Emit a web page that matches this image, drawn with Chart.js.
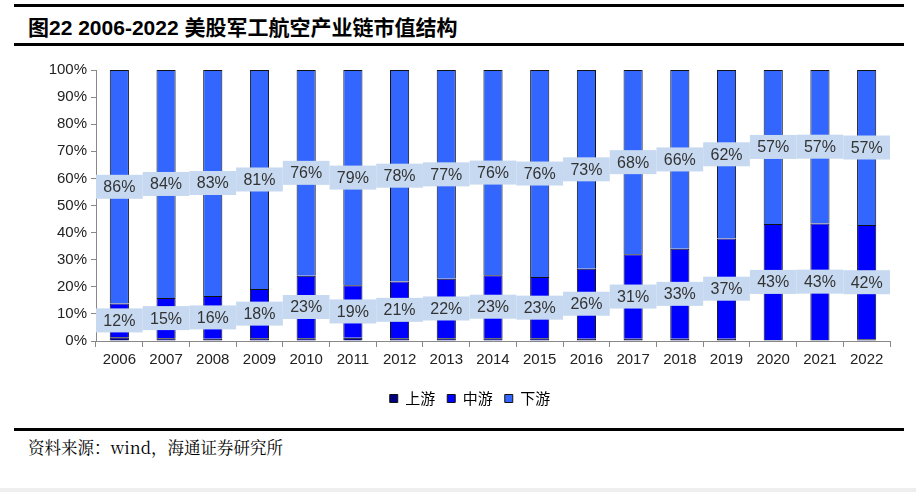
<!DOCTYPE html>
<html>
<head>
<meta charset="utf-8">
<script src="https://cdn.jsdelivr.net/npm/chart.js@4"></script>
<style>
  body { margin: 0; width: 916px; height: 492px; background: #fff; position: relative; overflow: hidden; font-family: Arial, "Liberation Sans", sans-serif; }
  .rule { position: absolute; left: 14px; width: 890px; background: #000; }
  #title { position: absolute; left: 28px; top: 11px; font-size: 21px; font-weight: bold; color: #000; font-family: Arial, "Noto Sans CJK SC", sans-serif; }
  #source { position: absolute; left: 28px; top: 435px; font-size: 16.5px; color: #000; font-family: "Noto Serif CJK SC", "Noto Sans CJK SC", serif; }
  #box { position: absolute; left: 0; top: 50px; width: 916px; height: 370px; }
  #strip { position: absolute; left: 0; top: 488px; width: 916px; height: 4px; background: #eee; }
</style>
</head>
<body>
<div class="rule" style="top:4px;height:3px"></div>
<div id="title">图22 2006-2022 美股军工航空产业链市值结构</div>
<div class="rule" style="top:43px;height:3px"></div>
<div id="box"><canvas id="chart"></canvas></div>
<div class="rule" style="top:428px;height:3px"></div>
<div id="source">资料来源：wind，海通证券研究所</div>
<div id="strip"></div>
<script>
/* 年份 */
const years = ['2006','2007','2008','2009','2010','2011','2012','2013','2014','2015','2016','2017','2018','2019','2020','2021','2022'];
/* 各环节市值占比（%） */
const upstream = [1.4, 1.0, 0.8, 1.0, 1.0, 1.2, 1.0, 1.0, 1.0, 1.0, 0.8, 0.8, 0.8, 0.8, 0.4, 0.4, 0.6];
const midstream = [12.4, 14.9, 15.8, 18.2, 23.1, 19.4, 21.0, 22.0, 23.3, 22.6, 25.9, 31.2, 33.2, 37.0, 42.8, 43.0, 42.2];
const downstream = [86.2, 84.1, 83.4, 80.8, 75.9, 79.4, 78.0, 77.0, 75.7, 76.4, 73.3, 68.0, 66.0, 62.2, 56.8, 56.6, 57.2];
const yTicks = [0, 10, 20, 30, 40, 50, 60, 70, 80, 90, 100];

/* 数据标签：段中间，浅蓝底色 */
const segLabels = {
  id: 'segLabels',
  afterLayout(chart) {
    /* 图例稍微右移 */
    chart.legend.left += 25;
    chart.legend.right += 25;
  },
  afterDatasetsDraw(chart) {
    const ctx = chart.ctx;
    const xs = chart.scales.x;
    const w = xs.width / years.length;
    ctx.save();
    ctx.font = '16px Arial';
    ctx.textAlign = 'center';
    ctx.textBaseline = 'middle';
    [1, 2].forEach(function(di) {
      const meta = chart.getDatasetMeta(di);
      meta.data.forEach(function(el, i) {
        const cy = (el.y + el.base) / 2;
        ctx.fillStyle = '#c6d9f0';
        ctx.fillRect(el.x - w / 2, cy - 12, w, 24);
        ctx.fillStyle = '#333';
        ctx.fillText(Math.round(chart.data.datasets[di].data[i]) + '%', el.x, cy + 1);
      });
    });
    ctx.restore();
  }
};

new Chart(document.getElementById('chart'), {
  type: 'bar',
  data: {
    labels: years,
    datasets: [
      { label: '上游', data: upstream, backgroundColor: '#000080', borderColor: '#111', borderWidth: 1 },
      { label: '中游', data: midstream, backgroundColor: '#0000ff', borderColor: '#111', borderWidth: 1 },
      { label: '下游', data: downstream, backgroundColor: '#3366ff', borderColor: '#111', borderWidth: 1 }
    ]
  },
  options: {
    responsive: true,
    maintainAspectRatio: false,
    animation: false,
    datasets: { bar: { barPercentage: 0.41, categoryPercentage: 1 } },
    layout: { padding: { left: 0, right: 26, top: 20, bottom: 4 } },
    plugins: {
      tooltip: { enabled: false },
      legend: {
        position: 'bottom',
        labels: { boxWidth: 8, boxHeight: 8, color: '#000', font: { size: 15, family: '"Noto Sans CJK SC", sans-serif' }, padding: 12 }
      }
    },
    scales: {
      x: {
        stacked: true,
        grid: { display: true, drawOnChartArea: false, offset: true, tickLength: 6, color: '#888' },
        border: { color: '#888' },
        ticks: { color: '#222', font: { size: 15, family: 'Arial' }, padding: 4, maxRotation: 0 },
        afterFit(s) { s.height = 38; }
      },
      y: {
        stacked: true,
        min: 0,
        max: 100,
        afterBuildTicks(s) { s.ticks = yTicks.map(function(v) { return { value: v }; }); },
        grid: { display: true, drawOnChartArea: false, tickLength: 5, color: '#888' },
        border: { color: '#888' },
        ticks: { color: '#222', font: { size: 15, family: 'Arial' }, padding: 4, callback: function(v) { return v + '%'; } },
        afterFit(s) { s.width = 96; }
      }
    }
  },
  plugins: [segLabels]
});
</script>
</body>
</html>
